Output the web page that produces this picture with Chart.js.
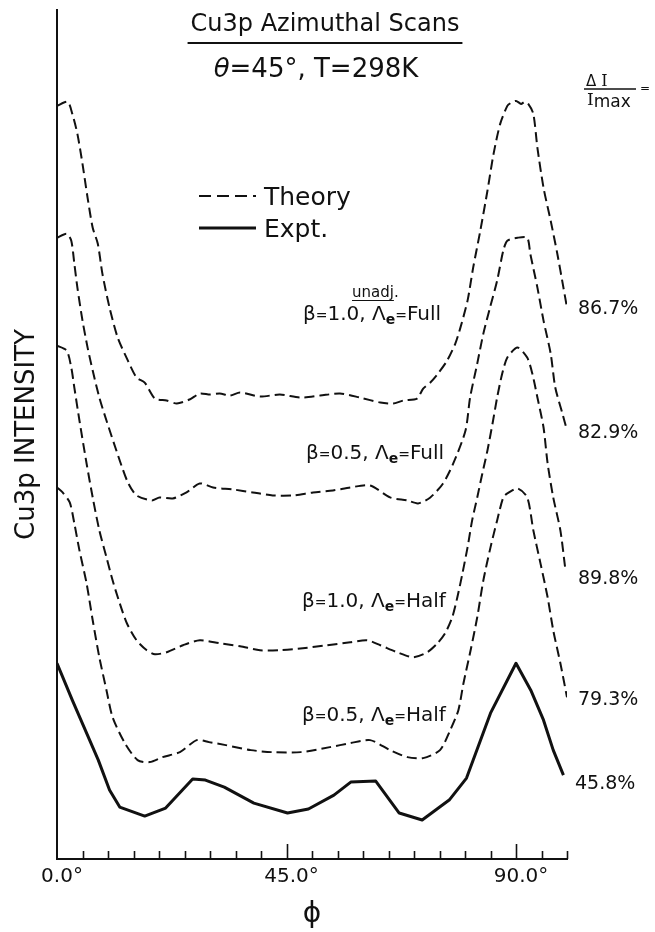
<!DOCTYPE html>
<html>
<head>
<meta charset="utf-8">
<script src="https://cdn.jsdelivr.net/npm/chart.js@4.4.1/dist/chart.umd.min.js"></script>
<style>
html,body{margin:0;padding:0;background:#fff;}
#wrap{width:655px;height:932px;position:relative;}
</style>
</head>
<body>
<div id="wrap"><canvas id="c" width="655" height="932"></canvas></div>
<script>
// ---- data (phi in degrees, intensity in arbitrary units, curves offset as drawn) ----
const xTickValues = [0, 45, 90];
const xTickLabels = ['0.0°', '45.0°', '90.0°'];

const phiB10Full = [0,2.1,3.0,4.0,5.0,6.0,7.0,8.0,8.9,10.3,11.9,13.9,15.6,17.2,19.2,21.5,23.5,26.0,28.0,30.0,31.9,33.9,35.9,39.8,43.7,47.7,51.6,55.5,59.4,63.4,65.9,67.9,70.6,71.8,73.2,74.7,76.5,78.1,79.1,80.5,81.6,83.0,84.4,85.6,86.9,88.3,89.0,90.0,91.0,91.7,92.4,93.4,94.2,95.4,96.8,98.1,99.3,100];
const intB10Full = [7.54,7.58,7.46,7.26,6.96,6.62,6.32,6.16,5.86,5.52,5.22,4.99,4.82,4.77,4.61,4.59,4.56,4.60,4.66,4.65,4.66,4.64,4.67,4.63,4.65,4.62,4.64,4.66,4.62,4.57,4.56,4.59,4.61,4.71,4.77,4.86,4.99,5.16,5.32,5.59,5.92,6.29,6.69,7.06,7.36,7.54,7.57,7.59,7.56,7.58,7.56,7.46,7.12,6.72,6.39,6.06,5.72,5.52];

const phiB05Full = [0,1.9,2.8,3.4,4.0,5.0,6.0,7.0,8.3,9.7,12.3,13.9,15.6,18.6,20.1,22.7,25.4,28.0,30.6,34.5,38.4,42.3,46.3,50.2,54.1,57.5,61.4,65.3,68.7,70.8,73.2,75.7,77.7,80.1,81.0,82.4,83.6,84.9,86.3,87.5,88.3,90.3,92.2,92.8,94.2,95.4,96.8,97.7,99.1,100];
const intB05Full = [6.22,6.26,6.19,5.96,5.72,5.39,5.12,4.89,4.62,4.39,3.99,3.77,3.64,3.59,3.62,3.61,3.67,3.76,3.72,3.70,3.67,3.64,3.64,3.67,3.69,3.72,3.74,3.62,3.59,3.56,3.62,3.76,3.96,4.29,4.62,4.96,5.26,5.52,5.79,6.09,6.19,6.22,6.22,6.06,5.72,5.39,5.06,4.72,4.46,4.29];

const phiB10Half = [0,1.9,2.8,3.4,4.4,5.8,7.0,8.3,9.7,10.9,12.3,13.7,15.6,17.6,19.2,21.5,24.7,28.0,31.9,35.9,39.8,43.7,48.2,52.9,57.5,60.8,63.4,66.7,69.8,72.6,74.6,76.1,77.5,78.5,79.5,80.5,81.4,82.4,83.4,84.4,85.4,86.3,87.3,88.3,90.3,92.2,93.2,94.2,95.4,96.2,97.3,98.7,99.7];
const intB10Half = [5.14,5.09,4.92,4.72,4.39,3.96,3.62,3.29,3.02,2.79,2.56,2.36,2.19,2.09,2.05,2.07,2.14,2.19,2.16,2.13,2.09,2.09,2.11,2.14,2.17,2.19,2.14,2.07,2.02,2.07,2.16,2.26,2.42,2.62,2.86,3.12,3.39,3.62,3.86,4.09,4.36,4.62,4.86,5.02,5.12,5.02,4.86,4.62,4.32,3.96,3.62,3.29,2.89];

const phiB05Half = [0,1.1,2.5,3.4,4.4,5.8,7.0,8.3,9.7,10.9,13.3,15.8,18.2,20.7,24.1,27.4,29.8,33.1,38.0,42.1,47.8,53.5,57.5,61.4,65.3,68.7,71.8,75.1,77.1,78.7,79.7,81.1,82.4,83.6,85.0,86.3,87.5,88.3,90.3,92.2,93.4,94.8,96.2,97.3,98.7,100];
const intB05Half = [3.72,3.67,3.57,3.36,3.09,2.76,2.39,2.02,1.69,1.42,1.16,0.99,0.97,1.02,1.07,1.19,1.17,1.14,1.09,1.07,1.07,1.12,1.16,1.19,1.09,1.02,1.01,1.09,1.29,1.49,1.76,2.09,2.42,2.79,3.12,3.39,3.62,3.66,3.71,3.62,3.29,2.96,2.62,2.29,1.96,1.62];

const phiExpt = [0,3.0,6.4,8.1,10.3,12.3,17.2,21.3,26.6,29.1,32.8,38.6,45.2,49.3,54.3,57.6,62.5,67.1,71.6,76.9,80.3,85.0,90.0,92.9,95.4,97.3,99.3];
const intExpt = [1.96,1.59,1.19,0.99,0.69,0.52,0.43,0.51,0.80,0.79,0.72,0.56,0.46,0.50,0.64,0.77,0.78,0.46,0.39,0.59,0.81,1.46,1.96,1.69,1.39,1.09,0.84];

const percentLabels = ['86.7%', '82.9%', '89.8%', '79.3%', '45.8%'];

// ---- helpers ----
function pts(xs, ys) { return xs.map((x, i) => ({ x: x, y: ys[i] })); }
const FONT = "'DejaVu Sans', sans-serif";
const SERIF = "'DejaVu Serif', serif";

function theory(label, xs, ys) {
  return { label, data: pts(xs, ys), borderColor: '#111', borderWidth: 2, borderDash: [10, 5],
           pointRadius: 0, tension: 0.25, fill: false, borderCapStyle: 'butt', borderJoinStyle: 'round' };
}

function drawRich(ctx, x, y, segs, align) {
  let total = 0;
  const ws = segs.map(s => {
    ctx.font = (s.style || '') + ' ' + s.size + 'px ' + (s.family || FONT);
    const w = ctx.measureText(s.t).width;
    total += w + (s.gap || 0);
    return w;
  });
  let cx = align === 'center' ? x - total / 2 : (align === 'right' ? x - total : x);
  segs.forEach((s, i) => {
    ctx.font = (s.style || '') + ' ' + s.size + 'px ' + (s.family || FONT);
    ctx.fillText(s.t, cx, y + (s.dy || 0));
    cx += ws[i] + (s.gap || 0);
  });
  return total;
}

const annotations = {
  id: 'annotations',
  afterDraw(chart) {
    const ctx = chart.ctx;
    const xs = chart.scales.x;
    const bottom = chart.chartArea.bottom;
    ctx.save();
    // tick marks (inside, upward)
    ctx.strokeStyle = '#111';
    ctx.lineWidth = 1.6;
    for (let v = 5; v <= 100; v += 5) {
      const px = Math.round(xs.getPixelForValue(v)) + 0.5;
      const len = xTickValues.includes(v) ? 15 : 8;
      ctx.beginPath(); ctx.moveTo(px, bottom); ctx.lineTo(px, bottom - len); ctx.stroke();
    }
    ctx.fillStyle = '#111';
    ctx.textBaseline = 'alphabetic';
    ctx.textAlign = 'left';
    // title
    const tcx = 325;
    const tw = drawRich(ctx, tcx, 31, [{ t: 'Cu3p Azimuthal Scans', size: 24 }], 'center');
    ctx.lineWidth = 2;
    ctx.beginPath(); ctx.moveTo(tcx - tw / 2 - 3, 43); ctx.lineTo(tcx + tw / 2 + 3, 43); ctx.stroke();
    drawRich(ctx, 316, 77, [
      { t: 'θ', size: 26, style: 'italic' }, { t: '=45°, T=298K', size: 26 }], 'center');
    // Delta I / I max
    drawRich(ctx, 586, 86, [{ t: 'Δ', size: 15 }, { t: ' I', size: 16, family: SERIF }], 'left');
    ctx.lineWidth = 1.4;
    ctx.beginPath(); ctx.moveTo(584, 89); ctx.lineTo(636, 89); ctx.stroke();
    drawRich(ctx, 587, 105, [{ t: 'I', size: 17, family: SERIF }, { t: 'max', size: 17, dy: 2 }], 'left');
    drawRich(ctx, 640, 92, [{ t: '=', size: 12 }], 'left');
    // legend
    ctx.lineWidth = 2;
    ctx.setLineDash([12, 6]);
    ctx.beginPath(); ctx.moveTo(199, 196); ctx.lineTo(256, 196); ctx.stroke();
    ctx.setLineDash([]);
    ctx.lineWidth = 3;
    ctx.beginPath(); ctx.moveTo(199, 228); ctx.lineTo(256, 228); ctx.stroke();
    drawRich(ctx, 264, 205, [{ t: 'Theory', size: 25 }], 'left');
    drawRich(ctx, 264, 237, [{ t: 'Expt.', size: 25 }], 'left');
    // curve labels
    drawRich(ctx, 352, 297, [{ t: 'unadj.', size: 15 }], 'left');
    ctx.font = '15px ' + FONT;
    const w0 = ctx.measureText('unadj').width;
    ctx.lineWidth = 1.2;
    ctx.beginPath(); ctx.moveTo(352, 300.5); ctx.lineTo(352 + w0, 300.5); ctx.stroke();
    const lab = (x, y, b, l) => drawRich(ctx, x, y, [
      { t: 'β', size: 20 }, { t: '=', size: 14 }, { t: b + ', ', size: 20 }, { t: 'Λ', size: 20 },
      { t: 'e', size: 14, style: 'bold', dy: 4 }, { t: '=', size: 14 }, { t: l, size: 20 }], 'left');
    lab(303, 320, '1.0', 'Full');
    lab(306, 459, '0.5', 'Full');
    lab(302, 607, '1.0', 'Half');
    lab(302, 721, '0.5', 'Half');
    // percentages
    const pcty = [314, 438, 584, 705, 789];
    percentLabels.forEach((p, i) => drawRich(ctx, i === 4 ? 575 : 578, pcty[i], [{ t: p, size: 19 }], 'left'));
    ctx.restore();
  }
};

new Chart(document.getElementById('c').getContext('2d'), {
  type: 'line',
  data: {
    datasets: [
      theory('β=1.0, Λe=Full', phiB10Full, intB10Full),
      theory('β=0.5, Λe=Full', phiB05Full, intB05Full),
      theory('β=1.0, Λe=Half', phiB10Half, intB10Half),
      theory('β=0.5, Λe=Half', phiB05Half, intB05Half),
      { label: 'Expt.', data: pts(phiExpt, intExpt), borderColor: '#111', borderWidth: 3,
        pointRadius: 0, tension: 0, fill: false, borderJoinStyle: 'round' }
    ]
  },
  options: {
    responsive: false,
    animation: false,
    devicePixelRatio: 1,
    layout: { padding: { left: 0, right: 88, top: 10, bottom: 0 } },
    plugins: { legend: { display: false }, tooltip: { enabled: false }, title: { display: false } },
    scales: {
      x: {
        type: 'linear', min: 0, max: 100, position: 'bottom',
        grid: { display: false, drawTicks: false },
        border: { display: true, color: '#111', width: 2 },
        ticks: {
          stepSize: 5, autoSkip: false, maxRotation: 0, padding: 6, labelOffset: 5,
          color: '#111', font: { family: FONT, size: 20 },
          callback: (v) => { const i = xTickValues.indexOf(v); return i >= 0 ? xTickLabels[i] : ''; }
        },
        title: { display: true, text: 'ϕ', color: '#111', font: { family: FONT, size: 28 }, padding: { top: 0, bottom: 0 } },
        afterFit: (s) => { s.height = 73; }
      },
      y: {
        type: 'linear', min: 0, max: 8.5,
        grid: { display: false, drawTicks: false },
        border: { display: true, color: '#111', width: 2 },
        ticks: { display: false },
        title: { display: true, text: 'Cu3p INTENSITY', color: '#111', font: { family: FONT, size: 26 }, padding: { top: 12, bottom: 0 } },
        afterFit: (s) => { s.width = 57; }
      }
    }
  },
  plugins: [annotations]
});
</script>
</body>
</html>
